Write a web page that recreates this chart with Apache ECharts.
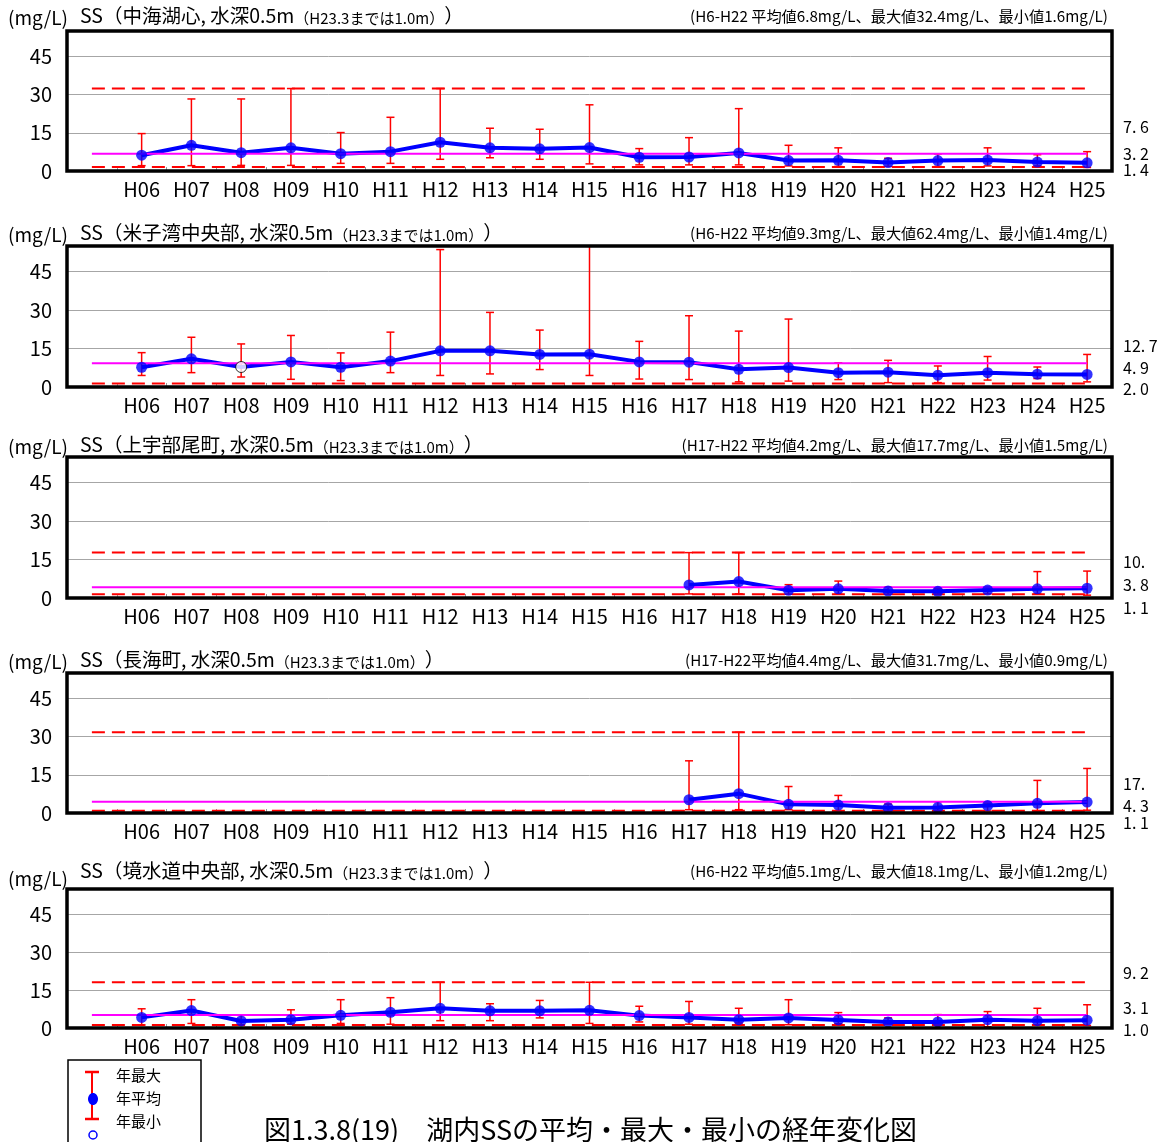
<!DOCTYPE html>
<html><head><meta charset="utf-8">
<script src="https://cdn.jsdelivr.net/npm/echarts@6/dist/echarts.min.js"></script>
<style>html,body{margin:0;padding:0;background:#fff}#c{width:1157px;height:1142px}</style>
</head><body><div id="c"></div>
<script>
// ---------- data ----------
const years = ['H06','H07','H08','H09','H10','H11','H12','H13','H14','H15','H16','H17','H18','H19','H20','H21','H22','H23','H24','H25'];
const xCategories = [''].concat(years);
const yTicks = [0, 15, 30, 45];
const yMax = 55;

const titles = ['SS（中海湖心, 水深0.5m','SS（米子湾中央部, 水深0.5m','SS（上宇部尾町, 水深0.5m','SS（長海町, 水深0.5m','SS（境水道中央部, 水深0.5m'];
const subTitle = '（H23.3までは1.0m）';
const statTexts = [
  '(H6-H22 平均値6.8mg/L、最大値32.4mg/L、最小値1.6mg/L)',
  '(H6-H22 平均値9.3mg/L、最大値62.4mg/L、最小値1.4mg/L)',
  '(H17-H22 平均値4.2mg/L、最大値17.7mg/L、最小値1.5mg/L)',
  '(H17-H22平均値4.4mg/L、最大値31.7mg/L、最小値0.9mg/L)',
  '(H6-H22 平均値5.1mg/L、最大値18.1mg/L、最小値1.2mg/L)'
];
const refMean = [6.8, 9.3, 4.2, 4.4, 5.1];
const refMax  = [32.4, 62.4, 17.7, 31.7, 18.1];
const refMin  = [1.6, 1.4, 1.5, 0.9, 1.2];
const sideLabels = [['7. 6','3. 2','1. 4'],['12. 7','4. 9','2. 0'],['10.','3. 8','1. 1'],['17.','4. 3','1. 1'],['9. 2','3. 1','1. 0']];

const p1Mean = [6.2,10.1,7.2,9.1,6.8,7.6,11.3,9.1,8.7,9.2,5.4,5.5,7.1,4.1,4.2,3.3,4.1,4.3,3.5,3.2];
const p1Max  = [14.7,28.3,28.3,32.4,15.1,21.1,32.4,16.8,16.4,26.0,8.8,13.1,24.5,10.1,9.1,5.0,6.7,9.1,6.4,7.6];
const p1Min  = [2.1,2.1,2.2,2.2,3.0,3.0,4.6,5.2,4.6,2.8,2.4,2.4,2.4,2.0,1.8,1.8,1.8,2.0,2.0,1.4];

const p2Mean = [7.7,11.0,7.8,9.8,7.7,10.1,14.1,14.1,12.7,12.8,9.8,9.7,6.9,7.6,5.6,5.8,4.6,5.6,5.0,4.9];
const p2Max  = [13.4,19.4,16.8,20.1,13.3,21.4,53.6,29.1,22.2,62.4,17.8,27.8,21.8,26.5,9.4,10.4,8.2,11.9,7.8,12.7];
const p2Min  = [4.5,5.6,3.9,3.0,2.5,5.6,4.5,5.1,6.8,4.5,3.1,2.9,2.0,2.3,2.9,1.7,1.7,2.7,3.3,2.0];
const p2Hollow = ['H08'];

const p3Mean = [null,null,null,null,null,null,null,null,null,null,null,5.1,6.4,3.0,3.6,2.7,2.6,3.1,3.6,3.8];
const p3Max  = [null,null,null,null,null,null,null,null,null,null,null,17.7,17.7,5.2,6.6,4.3,3.6,4.1,10.3,10.5];
const p3Min  = [null,null,null,null,null,null,null,null,null,null,null,1.6,1.6,1.5,1.5,1.5,1.5,1.6,1.6,1.1];

const p4Mean = [null,null,null,null,null,null,null,null,null,null,null,5.2,7.6,3.4,3.1,2.1,2.2,2.9,3.8,4.3];
const p4Max  = [null,null,null,null,null,null,null,null,null,null,null,20.5,31.7,10.4,6.9,3.5,4.4,3.9,12.8,17.5];
const p4Min  = [null,null,null,null,null,null,null,null,null,null,null,1.3,1.3,1.3,0.9,0.8,0.9,0.8,0.8,1.1];

const p5Mean = [4.2,6.9,2.8,3.3,5.0,6.2,7.8,6.8,6.8,7.0,4.9,4.2,3.3,4.0,3.2,2.4,2.4,3.3,2.9,3.1];
const p5Max  = [7.6,11.2,5.0,7.2,11.2,12.0,18.1,9.6,10.9,18.1,8.6,10.5,7.8,11.2,6.1,4.0,5.3,6.5,7.8,9.2];
const p5Min  = [1.2,1.8,1.3,1.5,1.8,1.5,2.9,2.9,4.0,1.8,2.4,1.5,2.0,1.3,1.7,1.5,1.2,0.5,1.3,1.0];

const legendLabels = ['年最大','年平均','年最小'];
const caption = '図1.3.8(19)　湖内SSの平均・最大・最小の経年変化図';

// ---------- layout ----------
const meanSets = [p1Mean, p2Mean, p3Mean, p4Mean, p5Mean];
const maxSets  = [p1Max, p2Max, p3Max, p4Max, p5Max];
const minSets  = [p1Min, p2Min, p3Min, p4Min, p5Min];
const hollowSets = [[], p2Hollow, [], [], []];
const gridTops = [31, 246, 457, 673, 889];
const gridHeights = [140, 141, 141, 140, 139];
const titleY = [19, 236, 448, 663, 874];
const unitY = [19, 236, 448, 663, 880];
const sideOffsets = [[-43,-16,0],[-40,-18,3],[-35,-12,11],[-28,-6,11],[-54,-19,3]];
const GL = 67, GW = 1045;
const NUM_FONT = "'Liberation Sans Narrow','Noto Sans CJK JP',sans-serif";
const JP_FONT = "'Noto Sans CJK JP',sans-serif";

const chart = echarts.init(document.getElementById('c'), null, {renderer: 'canvas'});

function errRender(params, api) {
  const idx = api.value(0), hi = api.value(1), lo = api.value(2);
  if (isNaN(hi) || isNaN(lo)) return null;
  const cs = params.coordSys;
  const pHi = api.coord([idx, hi]);
  const pLo = api.coord([idx, lo]);
  const x = pLo[0];
  let yTop = pHi[1];
  const clipped = yTop < cs.y;
  if (clipped) yTop = cs.y + 1;
  const st = {stroke: '#ff0000', lineWidth: 1.5};
  const ch = [
    {type: 'line', shape: {x1: x, y1: pLo[1], x2: x, y2: yTop}, style: st},
    {type: 'line', shape: {x1: x - 4, y1: pLo[1], x2: x + 4, y2: pLo[1]}, style: st}
  ];
  if (!clipped) ch.push({type: 'line', shape: {x1: x - 4, y1: yTop, x2: x + 4, y2: yTop}, style: st});
  return {type: 'group', children: ch};
}
function refRender(kind) {
  return function (params, api) {
    const v = api.value(0);
    if (v > yMax) return null;
    const a = api.coord([0, v]);
    const b = api.coord([xCategories.length - 1, v]);
    const style = kind === 'mean'
      ? {stroke: '#ff00ff', lineWidth: 2}
      : {stroke: '#ff0000', lineWidth: 2, lineDash: [13, 7]};
    return {type: 'line', shape: {x1: a[0], y1: a[1], x2: b[0], y2: b[1]}, style: style};
  };
}

const grids = [], xAxes = [], yAxes = [], series = [], graphics = [];
for (let p = 0; p < 5; p++) {
  grids.push({left: GL, top: gridTops[p], width: GW, height: gridHeights[p], show: true,
    borderColor: '#000', borderWidth: 0, backgroundColor: 'transparent'});
  xAxes.push({type: 'category', gridIndex: p, data: xCategories, boundaryGap: true,
    axisLine: {show: false},
    axisTick: {show: true, inside: true, length: 4, lineStyle: {color: '#999'}},
    axisLabel: {interval: 0, margin: 8, fontSize: 20, color: '#000', fontFamily: NUM_FONT}});
  yAxes.push({type: 'value', gridIndex: p, min: 0, max: yMax, interval: 15,
    axisLine: {show: false}, axisTick: {show: false},
    axisLabel: {showMaxLabel: false, margin: 15, fontSize: 20, color: '#000', fontFamily: NUM_FONT,
      formatter: v => yTicks.indexOf(v) >= 0 ? String(v) : ''},
    splitLine: {show: true, lineStyle: {color: '#a6a6a6', width: 1}}});

  const means = meanSets[p], maxs = maxSets[p], mins = minSets[p];
  series.push({type: 'custom', xAxisIndex: p, yAxisIndex: p, z: 2, silent: true,
    renderItem: refRender('ext'), data: [[refMax[p]], [refMin[p]]]});
  const errData = [];
  years.forEach((y, i) => { if (maxs[i] != null) errData.push([i + 1, maxs[i], mins[i]]); });
  series.push({type: 'custom', xAxisIndex: p, yAxisIndex: p, z: 3, silent: true,
    renderItem: errRender, data: errData});
  const lineData = [null].concat(means);
  series.push({type: 'line', xAxisIndex: p, yAxisIndex: p, z: 4, silent: true,
    data: lineData, symbol: 'none', connectNulls: false,
    lineStyle: {color: '#0000ff', width: 4}});
  series.push({type: 'custom', xAxisIndex: p, yAxisIndex: p, z: 5, silent: true,
    renderItem: refRender('mean'), data: [[refMean[p]]]});
  const markData = [null].concat(means.map((v, i) => {
    if (v == null) return null;
    if (hollowSets[p].indexOf(years[i]) >= 0)
      return {value: v, itemStyle: {color: '#fff', borderColor: '#000', borderWidth: 1}};
    return v;
  }));
  series.push({type: 'scatter', xAxisIndex: p, yAxisIndex: p, z: 6, silent: true,
    data: markData, symbol: 'circle', symbolSize: 11, itemStyle: {color: '#0000ff'}});

  // thick plot frame
  graphics.push({type: 'rect', z: 20, silent: true,
    shape: {x: GL, y: gridTops[p], width: GW, height: gridHeights[p]},
    style: {fill: 'none', stroke: '#000', lineWidth: 3.5}});

  graphics.push({type: 'text', left: 8, top: unitY[p] - 11, z: 10,
    style: {text: '(mg/L)', fontSize: 19, fill: '#000', fontFamily: NUM_FONT}});
  graphics.push({type: 'text', left: 80, top: titleY[p] - 13, z: 10,
    style: {text: '{a|' + titles[p] + '}{b|' + subTitle + '}{a|）}', fill: '#000',
      rich: {a: {fontSize: 19.5, fontFamily: JP_FONT, fill: '#000', verticalAlign: 'bottom', lineHeight: 25},
             b: {fontSize: 15, fontFamily: JP_FONT, fill: '#000', verticalAlign: 'bottom', lineHeight: 23}}}});
  graphics.push({type: 'text', right: 49, top: titleY[p] - 10, z: 10,
    style: {text: statTexts[p], fontSize: 15.2, fill: '#000', fontFamily: JP_FONT}});
  const bottom = gridTops[p] + gridHeights[p];
  sideLabels[p].forEach((t, k) => {
    graphics.push({type: 'text', left: 1123, top: bottom + sideOffsets[p][k] - 9, z: 10,
      style: {text: t, fontSize: 16, fill: '#000', fontFamily: NUM_FONT}});
  });
}

// legend box
graphics.push({type: 'rect', shape: {x: 68, y: 1060, width: 133, height: 100}, z: 10,
  style: {fill: '#fff', stroke: '#000', lineWidth: 1.5}});
graphics.push({type: 'line', shape: {x1: 92, y1: 1072, x2: 92, y2: 1119}, z: 11, style: {stroke: '#ff0000', lineWidth: 2}});
graphics.push({type: 'line', shape: {x1: 85, y1: 1072, x2: 99, y2: 1072}, z: 11, style: {stroke: '#ff0000', lineWidth: 2.5}});
graphics.push({type: 'line', shape: {x1: 85, y1: 1119, x2: 99, y2: 1119}, z: 11, style: {stroke: '#ff0000', lineWidth: 2.5}});
graphics.push({type: 'ellipse', shape: {cx: 93, cy: 1099, rx: 5, ry: 6}, z: 12, style: {fill: '#0000ff'}});
graphics.push({type: 'circle', shape: {cx: 93, cy: 1135, r: 4}, z: 12, style: {fill: '#fff', stroke: '#0000ff', lineWidth: 1.5}});
legendLabels.forEach((t, k) => {
  graphics.push({type: 'text', left: 116, top: [1068, 1091, 1114][k], z: 12,
    style: {text: t, fontSize: 15, fill: '#000', fontFamily: JP_FONT}});
});
graphics.push({type: 'text', left: 264, top: 1116, z: 12,
  style: {text: caption, fontSize: 27, fill: '#000', fontFamily: JP_FONT}});

chart.setOption({
  animation: false,
  backgroundColor: '#fff',
  grid: grids, xAxis: xAxes, yAxis: yAxes, series: series, graphic: graphics
});
</script></body></html>
